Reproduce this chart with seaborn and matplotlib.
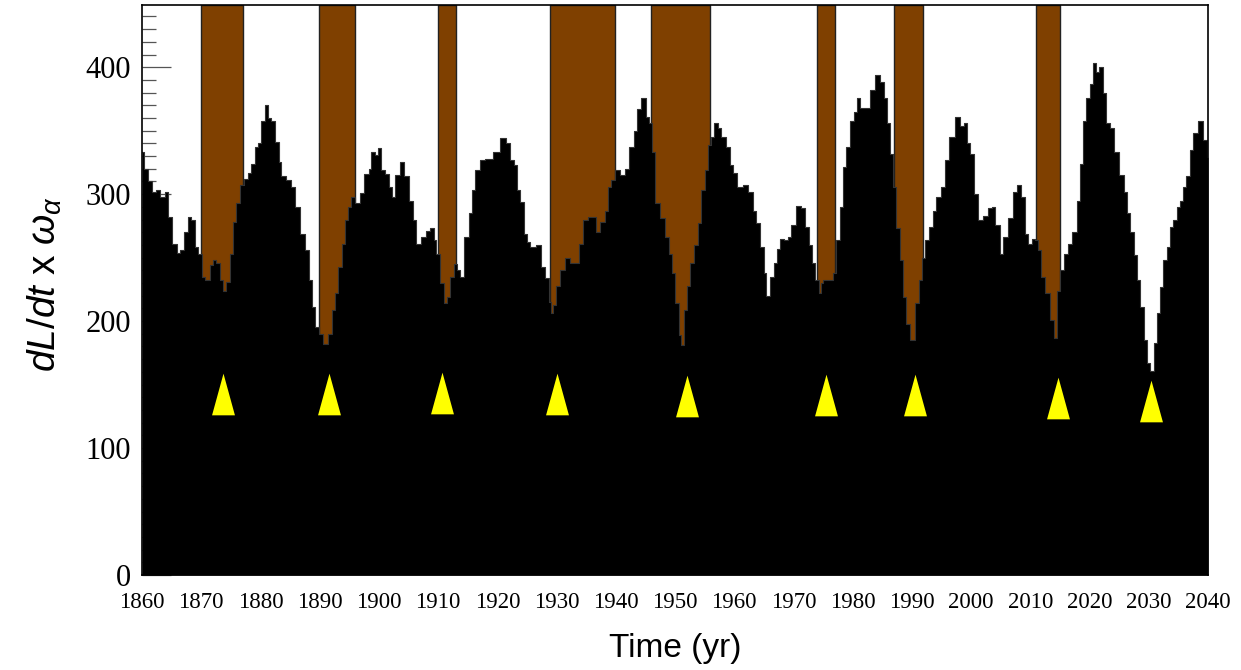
import numpy as np
import pandas as pd
import matplotlib
matplotlib.use("Agg")
import matplotlib.pyplot as plt
from matplotlib.ticker import MultipleLocator
import seaborn as sns

# ---------------- data ----------------
years = [1860.0, 1860.8, 1861.35, 1862.0, 1862.7, 1863.4, 1864.2, 1864.7, 1865.6, 1866.1,
         1866.8, 1867.3, 1868.1, 1868.6, 1869.2, 1869.8, 1870.3, 1871.0, 1871.8, 1872.3,
         1872.8, 1873.5, 1874.0, 1874.5, 1875.2, 1875.7, 1876.2, 1876.9, 1877.7, 1878.2,
         1878.7, 1879.4, 1879.9, 1880.4, 1881.1, 1881.6, 1882.1, 1882.8, 1883.3, 1883.8,
         1884.7, 1885.5, 1886.3, 1887.2, 1887.9, 1888.4, 1888.9, 1889.6, 1890.1, 1891.0,
         1891.7, 1892.3, 1892.9, 1893.4, 1894.0, 1894.6, 1895.1, 1895.6, 1896.5, 1897.1,
         1898.0, 1898.5, 1899.0, 1899.7, 1900.0, 1900.7, 1901.4, 1901.9, 1902.4, 1903.1,
         1903.9, 1904.7, 1905.3, 1906.1, 1906.6, 1907.5, 1908.3, 1909.0, 1909.5, 1909.8,
         1910.7, 1911.2, 1911.7, 1912.3, 1912.9, 1913.4, 1914.0, 1914.9, 1915.4, 1915.9,
         1916.7, 1917.6, 1918.4, 1920.0, 1921.0, 1921.8, 1922.5, 1923.0, 1923.5, 1924.2,
         1924.7, 1925.2, 1926.0, 1926.9, 1927.7, 1928.4, 1928.9, 1929.2, 1929.7, 1930.2,
         1930.9, 1931.8, 1932.6, 1933.5, 1934.0, 1934.8, 1935.7, 1936.2, 1937.0, 1937.8,
         1938.5, 1939.0, 1939.5, 1940.2, 1941.1, 1941.9, 1942.7, 1943.3, 1943.8, 1944.8,
         1945.4, 1945.8, 1946.3, 1947.1, 1948.0, 1948.7, 1949.2, 1949.7, 1950.4, 1950.8,
         1951.2, 1951.7, 1952.2, 1952.9, 1953.4, 1954.2, 1954.7, 1955.4, 1955.9, 1956.4,
         1956.9, 1957.6, 1958.1, 1959.0, 1959.6, 1960.1, 1961.0, 1961.8, 1962.7, 1963.5,
         1964.0, 1964.7, 1965.2, 1965.7, 1966.4, 1966.9, 1967.4, 1968.1, 1968.6, 1969.4,
         1969.9, 1970.8, 1971.6, 1972.3, 1972.8, 1973.3, 1974.0, 1974.5, 1974.8, 1975.3,
         1976.2, 1977.0, 1977.5, 1978.2, 1978.7, 1979.2, 1979.9, 1980.4, 1980.9, 1981.6,
         1982.4, 1983.3, 1984.1, 1985.0, 1985.5, 1986.0, 1986.6, 1987.0, 1987.7, 1988.3,
         1988.8, 1989.3, 1990.2, 1990.9, 1991.4, 1991.9, 1992.6, 1993.1, 1993.9, 1994.4,
         1995.3, 1995.9, 1996.8, 1997.8, 1998.5, 1999.0, 1999.5, 2000.2, 2000.7, 2001.5,
         2002.4, 2003.2, 2003.7, 2004.4, 2005.2, 2005.7, 2006.6, 2007.4, 2008.1, 2008.8,
         2009.4, 2009.9, 2010.5, 2011.1, 2011.6, 2012.1, 2013.0, 2013.8, 2014.2, 2014.7,
         2015.4, 2015.9, 2016.7, 2017.5, 2018.1, 2018.7, 2019.2, 2019.7, 2020.4, 2020.8,
         2021.4, 2021.9, 2022.6, 2023.1, 2023.8, 2024.6, 2025.5, 2026.0, 2026.5, 2027.2,
         2027.7, 2028.2, 2028.9, 2029.4, 2029.9, 2030.6, 2031.1, 2031.6, 2032.2, 2032.7,
         2033.3, 2033.9, 2034.4, 2035.0, 2035.6, 2036.1, 2036.6, 2037.3, 2037.8, 2038.7,
         2039.5, 2040.0]
envelope = [333, 320, 310, 302, 303, 298, 302, 282, 261, 254,
            256, 270, 282, 280, 258, 253, 235, 232, 244, 248,
            246, 232, 224, 231, 253, 278, 293, 307, 312, 317,
            324, 337, 340, 358, 370, 360, 358, 341, 325, 314,
            311, 306, 290, 269, 256, 232, 211, 195, 190, 182,
            190, 209, 222, 243, 261, 280, 290, 298, 293, 301,
            316, 320, 333, 331, 336, 319, 316, 306, 298, 315,
            325, 314, 295, 280, 261, 266, 271, 273, 264, 253,
            230, 214, 219, 235, 245, 240, 235, 266, 285, 303,
            319, 327, 328, 333, 344, 340, 327, 323, 303, 294,
            269, 262, 258, 260, 243, 234, 215, 206, 213, 228,
            240, 250, 246, 246, 261, 280, 282, 282, 270, 278,
            287, 306, 311, 319, 315, 320, 337, 350, 367, 376,
            361, 356, 333, 293, 281, 266, 253, 238, 214, 189,
            181, 209, 228, 246, 260, 277, 303, 319, 339, 345,
            356, 352, 345, 337, 323, 317, 306, 307, 302, 287,
            277, 258, 238, 220, 235, 246, 257, 265, 264, 266,
            276, 291, 289, 274, 260, 246, 232, 222, 230, 232,
            232, 238, 264, 290, 321, 337, 358, 365, 376, 368,
            368, 382, 394, 388, 376, 356, 332, 306, 273, 248,
            219, 198, 185, 214, 232, 250, 264, 274, 287, 298,
            306, 327, 345, 361, 354, 356, 340, 332, 300, 280,
            283, 289, 290, 276, 253, 266, 281, 302, 307, 298,
            269, 261, 265, 264, 256, 235, 222, 201, 187, 224,
            240, 253, 261, 270, 295, 324, 358, 376, 387, 403,
            396, 400, 380, 356, 352, 333, 315, 302, 285, 270,
            252, 232, 211, 185, 167, 161, 183, 206, 227, 248,
            258, 274, 280, 290, 295, 306, 314, 335, 348, 358,
            343, 329]

band_start = [1870.0, 1889.9, 1909.9, 1928.9, 1946.0, 1973.9, 1987.0, 2011.0]
band_end = [1877.0, 1896.0, 1913.0, 1939.9, 1955.9, 1977.0, 1991.9, 2015.0]

tri_years = [1873.7, 1891.5, 1910.7, 1930.1, 1952.1, 1975.5, 1990.6, 2014.6, 2030.3]
tri_values = [142.4, 142.4, 143.3, 142.5, 141.3, 141.7, 141.7, 139.8, 137.0]

xticks = list(range(1860, 2041, 10))

# ---------------- style ----------------
sns.set_theme(style="white")
plt.rcParams["font.family"] = ["Liberation Serif", "DejaVu Serif"]
plt.rcParams["mathtext.fontset"] = "custom"
plt.rcParams["mathtext.it"] = "Liberation Sans:italic"
plt.rcParams["mathtext.rm"] = "Liberation Sans"
plt.rcParams["text.color"] = "black"
plt.rcParams["xtick.color"] = "black"
plt.rcParams["ytick.color"] = "black"
plt.rcParams["xtick.labelcolor"] = "black"
plt.rcParams["ytick.labelcolor"] = "black"

fig = plt.figure(figsize=(12.41, 6.70), dpi=100)
ax = fig.add_axes([142 / 1241, 95 / 670, 1066 / 1241, 570 / 670])
ax.set_axisbelow(True)

# bands
for s, e in zip(band_start, band_end):
    ax.axvspan(s, e, ymin=0, ymax=1, facecolor="#7f4000", edgecolor="#222222",
               linewidth=1.0, zorder=0.8)

df = pd.DataFrame({"year": years, "val": envelope})
ax.fill_between(df["year"], 0, df["val"], step="mid", color="black",
                linewidth=0, zorder=1.5)
sns.lineplot(data=df, x="year", y="val", ax=ax, color="#333333", linewidth=0.8,
             drawstyle="steps-mid", zorder=1.6)

# triangles
tri_marker = [(-0.55, -1.0), (0.55, -1.0), (0.0, 1.0), (-0.55, -1.0)]
tdf = pd.DataFrame({"year": tri_years, "val": tri_values})
sns.scatterplot(data=tdf, x="year", y="val", ax=ax, marker=tri_marker, s=900,
                color="#ffff00", edgecolor="#ffff00", linewidth=0, zorder=3)

ax.set_xlim(1860, 2040)
ax.set_ylim(0, 449)
ax.set_xticks(xticks)
ax.set_xticklabels([str(t) for t in xticks], fontsize=16.5)
ax.yaxis.set_major_locator(MultipleLocator(100))
ax.yaxis.set_minor_locator(MultipleLocator(10))
ax.tick_params(axis="y", which="major", direction="in", length=21, width=0.9,
               color="#555555", labelsize=22, pad=8, left=True, right=False)
ax.tick_params(axis="y", which="minor", direction="in", length=10, width=0.9,
               color="#555555", left=True, right=False)
ax.tick_params(axis="x", which="both", length=0, pad=12)
for lbl in ax.get_yticklabels():
    lbl.set_fontsize(22)

ax.set_xlabel("")
ax.set_ylabel("")
for sp in ax.spines.values():
    sp.set_visible(True)
    sp.set_color("black")
    sp.set_linewidth(1.2)
    sp.set_zorder(4)

fig.text(45 / 1241, 1 - 284 / 670, r"$dL/dt$ x $\omega_{\alpha}$", rotation=90,
         ha="center", va="center", fontsize=28, family="Liberation Sans",
         color="black")
fig.text(675 / 1241, 1 - 648 / 670, "Time (yr)", ha="center", va="center",
         fontsize=24, family="Liberation Sans", color="black")

fig.savefig("out.png", dpi=100)
